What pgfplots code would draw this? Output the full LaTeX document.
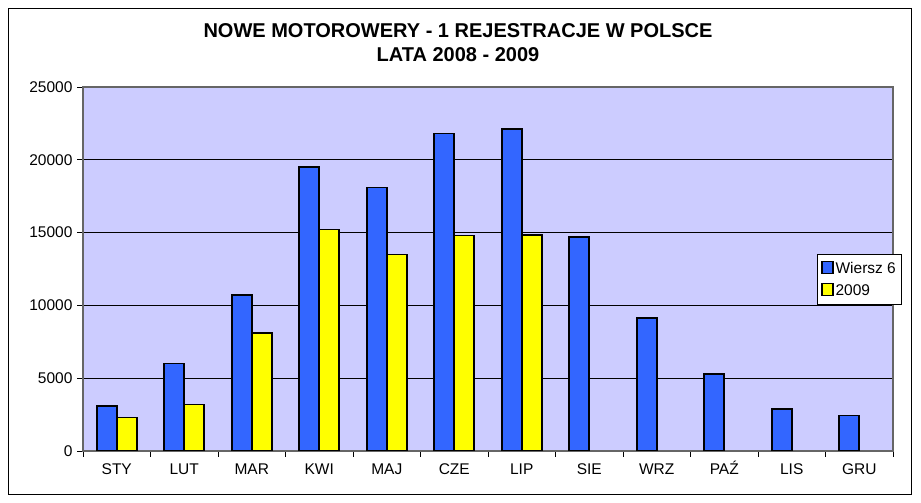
\documentclass[border=0pt]{standalone}
\usepackage{pgfplots}
\pgfplotsset{compat=1.18}
\usepackage{fontspec}
\setmainfont{Liberation Sans}
\definecolor{barblue}{HTML}{3366FF}
\definecolor{baryellow}{HTML}{FFFF00}
\definecolor{plotbg}{HTML}{CCCCFF}
\begin{document}
\begin{tikzpicture}
\path[use as bounding box] (0pt,0pt) rectangle (921pt,503pt);
\draw[line width=1pt] (8pt,8pt) rectangle (911pt,494pt);
\node[font=\fontsize{20}{24}\selectfont\bfseries, align=center] at (458pt,460pt) {NOWE MOTOROWERY - 1 REJESTRACJE W POLSCE\\LATA 2008 - 2009};
\begin{axis}[
  at={(83pt,52pt)}, anchor=south west,
  scale only axis, width=810pt, height=364pt,
  xmin=-0.5, xmax=11.5, ymin=0, ymax=25000,
  ybar, bar width=20pt,
  axis background/.style={fill=plotbg},
  axis line style={draw=gray!80!black, line width=1.2pt},
  xtick={0,...,11},
  xticklabels={STY,LUT,MAR,KWI,MAJ,CZE,LIP,SIE,WRZ,PAŹ,LIS,GRU},
  major x tick style={draw=none},
  minor xtick={-0.5,0.5,...,11.5},
  minor tick length=6pt,
  xtick pos=bottom, ytick pos=left, tick align=outside,
  major tick length=6pt,
  tick style={black, line width=0.8pt},
  ytick={0,5000,...,25000},
  ymajorgrids, grid style={black, line width=0.8pt},
  yticklabel style={/pgf/number format/1000 sep={}, /pgf/number format/assume math mode=true, font=\fontsize{15.5}{18}\selectfont, xshift=-1pt},
  xticklabel style={font=\fontsize{15.5}{18}\selectfont, text height=11pt, text depth=3pt, yshift=-3pt},
  scaled y ticks=false,
  legend style={at={(0.906,0.541)}, anchor=north west, draw=black, line width=0.8pt, fill=white, font=\fontsize{15.5}{18}\selectfont, row sep=5pt, inner xsep=4pt, inner ysep=6pt},
  legend cell align=left,
  legend image code/.code={\draw[#1, line width=1.3pt] (0pt,-5pt) rectangle (11pt,7pt);},
]
\addplot[fill=barblue, draw=black, line width=1.6pt, bar shift=-10pt] coordinates {
(0,3100) (1,6000) (2,10700) (3,19500) (4,18100) (5,21800) (6,22100) (7,14700) (8,9150) (9,5300) (10,2900) (11,2450)};
\addplot[fill=baryellow, draw=black, line width=1.6pt, bar shift=10pt] coordinates {
(0,2300) (1,3200) (2,8100) (3,15200) (4,13500) (5,14800) (6,14850)};
\legend{Wiersz 6,2009}
\end{axis}
\end{tikzpicture}
\end{document}
